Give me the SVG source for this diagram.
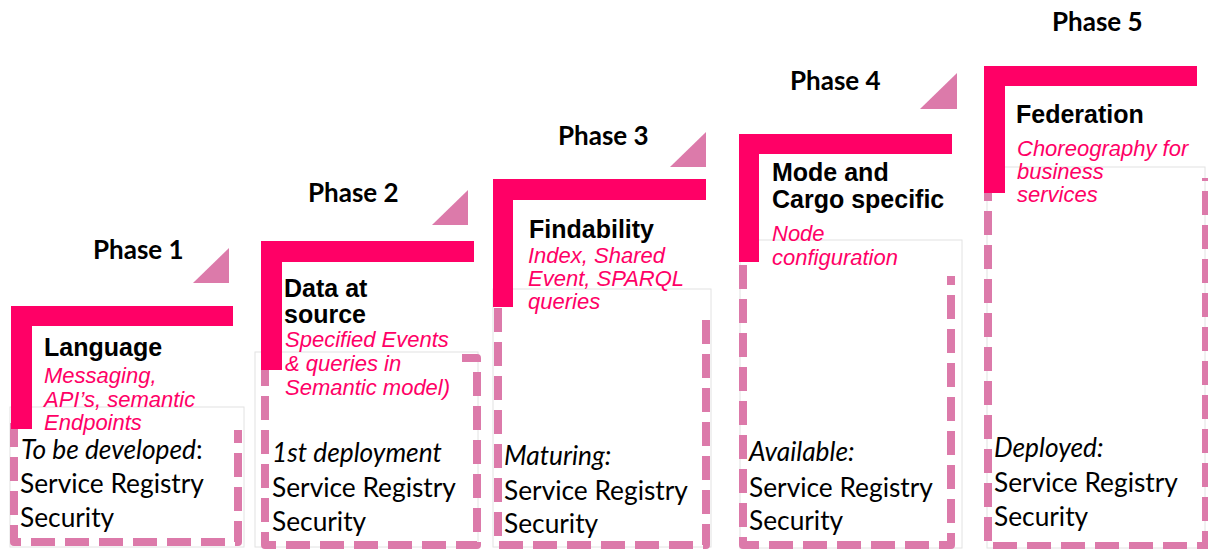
<svg xmlns="http://www.w3.org/2000/svg" width="1208" height="549" viewBox="0 0 1208 549">
  <defs>
    <style>
      .phase { font-family: Lato, "Liberation Sans", sans-serif; font-weight: bold; font-size: 26px; fill: #000; }
      .title { font-family: "Liberation Sans", Arial, sans-serif; font-weight: bold; font-size: 25px; fill: #000; }
      .sub { font-family: "Liberation Sans", Arial, sans-serif; font-style: italic; font-size: 22px; fill: #FF0066; }
      .body { font-family: Lato, "Liberation Sans", sans-serif; font-size: 26.3px; fill: #000; }
      .it { font-style: italic; }
      .bar { fill: #FF0066; }
      .tri { fill: #DC7AAA; }
      .frame { fill: #fff; stroke: #E2E2E2; stroke-width: 1; }
      .dash { fill: none; stroke: #DC7AAA; stroke-width: 8; stroke-dasharray: 24 10; stroke-linejoin: round; }
    </style>
  </defs>
  <rect width="1208" height="549" fill="#fff"/>

  <!-- Phase 1 -->
  <g id="phase1">
    <text class="phase" x="93" y="259">Phase 1</text>
    <polygon class="tri" points="193,283 229,283 229,248"/>
    <rect class="frame" x="10" y="407" width="234" height="140"/>
    <path class="dash" d="M14,423 V542 H238 V430"/>
    <path class="bar" d="M11,306 H233 V326 H32 V429 H11 Z"/>
    <text class="title" x="44" y="356">Language</text>
    <text class="sub"><tspan x="44" y="383">Messaging,</tspan><tspan x="44" y="407">API’s, semantic</tspan><tspan x="44" y="430">Endpoints</tspan></text>
    <text class="body"><tspan x="21" y="459"><tspan class="it">To be developed</tspan>:</tspan><tspan x="20" y="493">Service Registry</tspan><tspan x="20" y="527">Security</tspan></text>
  </g>

  <!-- Phase 2 -->
  <g id="phase2">
    <text class="phase" x="308" y="202">Phase 2</text>
    <polygon class="tri" points="432,225 468,225 468,190"/>
    <rect class="frame" x="255" y="352" width="223" height="195"/>
    <path class="dash" d="M265,362 V545 H477 V358 H462"/>
    <path class="bar" d="M261,241 H474 V262 H282 V370 H261 Z"/>
    <text class="title"><tspan x="284" y="297">Data at</tspan><tspan x="284" y="323">source</tspan></text>
    <text class="sub"><tspan x="285" y="347">Specified Events</tspan><tspan x="285" y="371">&amp; queries in</tspan><tspan x="285" y="395">Semantic model)</tspan></text>
    <text class="body"><tspan class="it" x="272" y="462">1st deployment</tspan><tspan x="272" y="497">Service Registry</tspan><tspan x="272" y="531">Security</tspan></text>
  </g>

  <!-- Phase 3 -->
  <g id="phase3">
    <text class="phase" x="558" y="145">Phase 3</text>
    <polygon class="tri" points="670,167 706,167 706,132"/>
    <rect class="frame" x="493" y="289" width="218" height="258"/>
    <path class="dash" d="M498,308 V545 H706 V318"/>
    <path class="bar" d="M493,179 H706 V200 H513 V307 H493 Z"/>
    <text class="title" x="529" y="238">Findability</text>
    <text class="sub"><tspan x="528" y="263">Index, Shared</tspan><tspan x="528" y="286">Event, SPARQL</tspan><tspan x="528" y="309">queries</tspan></text>
    <text class="body"><tspan class="it" x="504" y="465">Maturing:</tspan><tspan x="504" y="500">Service Registry</tspan><tspan x="504" y="533">Security</tspan></text>
  </g>

  <!-- Phase 4 -->
  <g id="phase4">
    <text class="phase" x="790" y="90">Phase 4</text>
    <polygon class="tri" points="920,109 957,109 957,73"/>
    <rect class="frame" x="740" y="240" width="222" height="308"/>
    <path class="dash" d="M743,265 V545 H951 V276"/>
    <path class="bar" d="M739,134 H952 V154 H759 V262 H739 Z"/>
    <text class="title"><tspan x="772" y="181">Mode and</tspan><tspan x="772" y="208">Cargo specific</tspan></text>
    <text class="sub"><tspan x="772" y="241">Node</tspan><tspan x="772" y="265">configuration</tspan></text>
    <text class="body"><tspan class="it" x="749" y="461">Available:</tspan><tspan x="749" y="497">Service Registry</tspan><tspan x="749" y="530">Security</tspan></text>
  </g>

  <!-- Phase 5 -->
  <g id="phase5">
    <text class="phase" x="1052" y="31">Phase 5</text>
    <rect class="frame" x="987" y="167" width="218" height="381"/>
    <path class="dash" d="M988,177 V546 H1206 V178"/>
    <path class="bar" d="M984,66 H1197 V86 H1005 V193 H984 Z"/>
    <text class="title" x="1016" y="123">Federation</text>
    <text class="sub"><tspan x="1017" y="156">Choreography for</tspan><tspan x="1017" y="179">business</tspan><tspan x="1017" y="202">services</tspan></text>
    <text class="body"><tspan class="it" x="994" y="457">Deployed:</tspan><tspan x="994" y="492">Service Registry</tspan><tspan x="994" y="526">Security</tspan></text>
  </g>

  <!-- no connectors between the phases -->
  <g id="connectors"/>
</svg>
